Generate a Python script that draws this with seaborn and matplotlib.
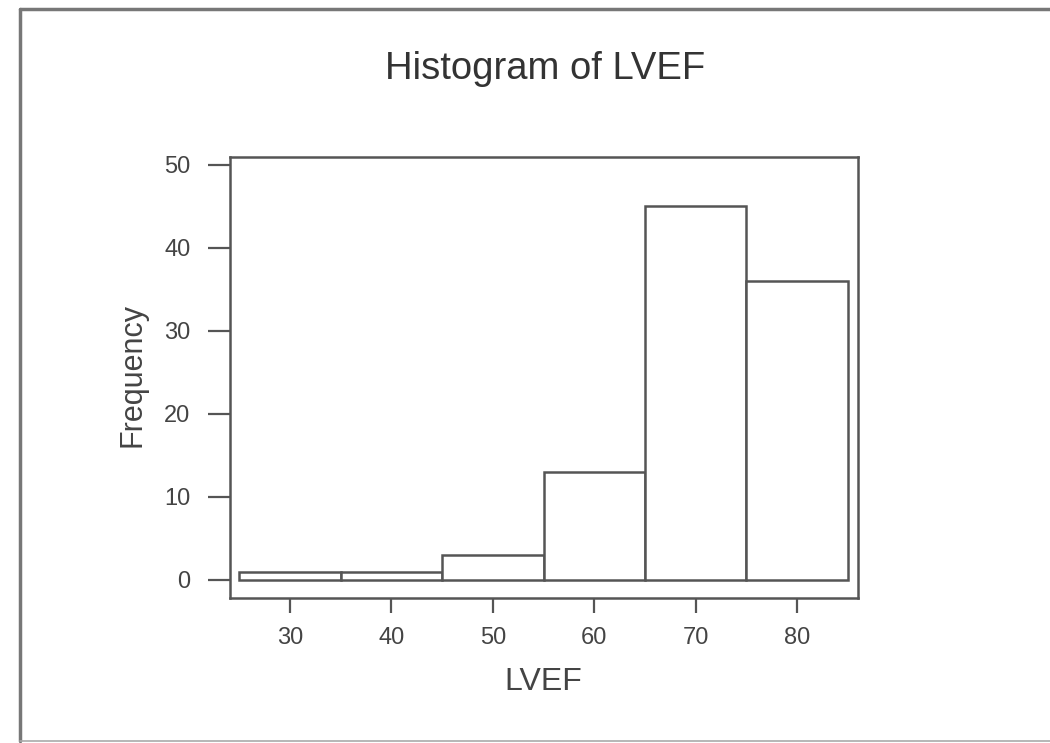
import numpy as np
import matplotlib
matplotlib.use("Agg")
import matplotlib.pyplot as plt
from matplotlib.lines import Line2D
import seaborn as sns

# Data
bin_edges = [25, 35, 45, 55, 65, 75, 85]
counts = [1, 1, 3, 13, 45, 36]
x_ticks = [30, 40, 50, 60, 70, 80]
y_ticks = [0, 10, 20, 30, 40, 50]
title = "Histogram of LVEF"
x_label = "LVEF"
y_label = "Frequency"

sns.set_style("white")
plt.rcParams['font.family'] = ['Liberation Sans', 'DejaVu Sans']

line_col = "#555555"
text_col = "#444444"

fig = plt.figure(figsize=(10.5, 7.43), dpi=100)
W, H = 1050, 743
L, R, T, B = 230, 858, 157, 598
ax = fig.add_axes([L / W, 1 - B / H, (R - L) / W, (B - T) / H])

mids = [(a + b) / 2 for a, b in zip(bin_edges[:-1], bin_edges[1:])]
sns.histplot(x=mids, weights=counts, bins=bin_edges, ax=ax,
             color="white", edgecolor=line_col, linewidth=1.8, alpha=1)

ax.set_xlim(24.08, 86.0)
ax.set_ylim(-2.17, 50.96)
ax.set_xticks(x_ticks)
ax.set_yticks(y_ticks)
ax.set_yticklabels([str(v) for v in y_ticks])
ax.set_xticklabels([str(v) for v in x_ticks])

for s in ax.spines.values():
    s.set_visible(True)
    s.set_color(line_col)
    s.set_linewidth(1.8)

ax.tick_params(axis='x', direction='out', length=10.8, width=1.6, color=line_col,
               pad=10, labelsize=17, labelcolor=text_col, bottom=True)
ax.tick_params(axis='y', direction='out', length=15.5, width=1.6, color=line_col,
               pad=13, labelsize=17, labelcolor=text_col, left=True)

ax.set_xlabel(x_label, fontsize=23, color=text_col)
ax.xaxis.set_label_coords((543 - L) / (R - L), (B - 690) / (B - T))
ax.xaxis.label.set_va('baseline')
ax.set_ylabel(y_label, fontsize=22, color=text_col)
ax.yaxis.set_label_coords((132 - L) / (R - L), (B - 375) / (B - T))
ax.yaxis.label.set_va('center')

ax.set_title(title, fontsize=27.5, color="#333333",
             x=(545 - L) / (R - L), y=(B - 87) / (B - T), va='baseline')

# outer frame of the picture
fig.add_artist(Line2D([20 / W, 20 / W], [1 - 9 / H, 1 - 741 / H], transform=fig.transFigure,
                      color="#777777", linewidth=2.5))
fig.add_artist(Line2D([20 / W, 1.0], [1 - 9 / H, 1 - 9 / H], transform=fig.transFigure,
                      color="#777777", linewidth=2.5))
fig.add_artist(Line2D([20 / W, 1.0], [1 - 741 / H, 1 - 741 / H], transform=fig.transFigure,
                      color="#aaaaaa", linewidth=1.2))

fig.savefig("out.png", dpi=100)
